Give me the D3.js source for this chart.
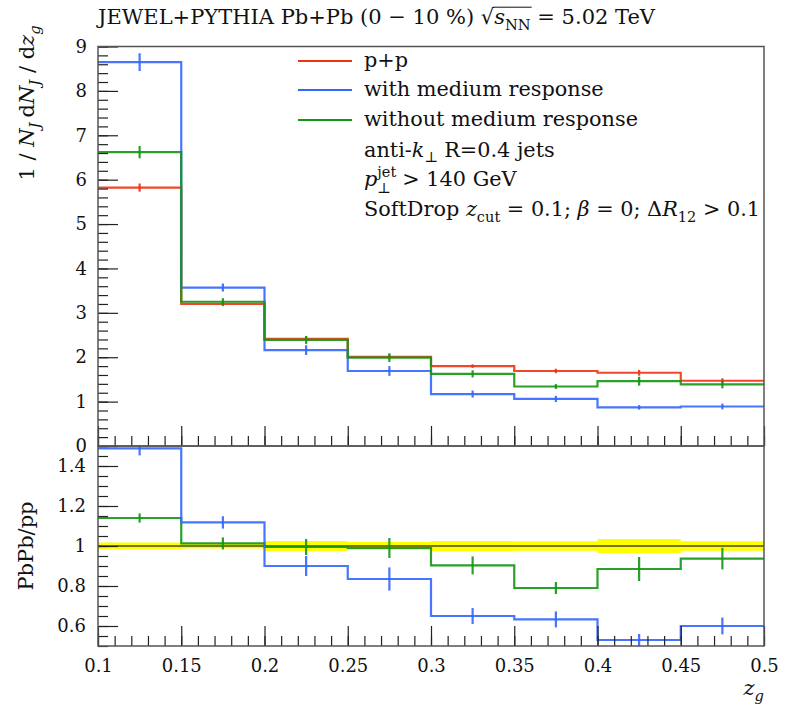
<!DOCTYPE html>
<html><head><meta charset="utf-8">
<script src="https://cdn.jsdelivr.net/npm/d3@7"></script>
<style>
body{margin:0;background:#fff;}
svg text{font-family:"DejaVu Serif",serif;fill:#111;white-space:pre;}
</style></head>
<body><svg id="c" width="789" height="712"></svg>
<script>
// ---------- data ----------
const binEdges = [0.1,0.15,0.2,0.25,0.3,0.35,0.4,0.45,0.5];
const ppVals      = [5.82,3.20,2.415,2.01,1.80,1.69,1.65,1.47];
const ppErr       = [0.094,0.05,0.05,0.05,0.04,0.05,0.065,0.055];
const withMR      = [8.65,3.57,2.16,1.69,1.17,1.06,0.87,0.89];
const withMRErr   = [0.2,0.09,0.11,0.11,0.08,0.07,0.05,0.065];
const withoutMR   = [6.62,3.25,2.39,1.99,1.625,1.34,1.46,1.39];
const withoutMRErr= [0.14,0.08,0.09,0.1,0.08,0.055,0.1,0.09];
const ratioWith      = [1.488,1.118,0.90,0.835,0.65,0.633,0.53,0.60];
const ratioWithErr   = [0.035,0.031,0.05,0.058,0.04,0.04,0.03,0.042];
const ratioWithout   = [1.14,1.013,0.995,0.99,0.903,0.79,0.885,0.937];
const ratioWithoutErr= [0.023,0.03,0.04,0.05,0.045,0.03,0.06,0.054];
const ppBand         = [0.017,0.013,0.025,0.02,0.025,0.024,0.035,0.024];
const topTicks   = [0,1,2,3,4,5,6,7,8,9];
const ratioTicks = [0.6,0.8,1,1.2,1.4];
const xTicks     = [0.1,0.15,0.2,0.25,0.3,0.35,0.4,0.45,0.5];
const xTickLabels= ["0.1","0.15","0.2","0.25","0.3","0.35","0.4","0.45","0.5"];
const seriesNames = ["p+p","with medium response","without medium response"];
const colors = ["#ee3311","#3366ff","#139613"];

// ---------- layout ----------
const svg = d3.select("#c");
const x = d3.scaleLinear([0.1,0.5],[98,764]);
const yTop = d3.scaleLinear([0,9],[446,46.5]);
const yRat = d3.scaleLinear([0.5,1.5],[646,446]);
const FONT = 21;

function len(sel){return sel.node().getComputedTextLength();}

function rich(parent, x0, y0, segs, size){
  const g = parent.append("g");
  let cx = x0; const overs=[];
  segs.forEach(s=>{
    if(s.stack){
      const a=g.append("text").attr("x",cx).attr("y",y0-size*0.45).style("font-size",size*0.7+"px").text(s.stack[0]);
      const b=g.append("text").attr("x",cx).attr("y",y0+size*0.32).style("font-size",size*0.7+"px").text(s.stack[1]);
      cx += Math.max(len(a),len(b)) + (s.gap||0);
      return;
    }
    const sz = size*(s.scale||1);
    const t=g.append("text").attr("x",cx).attr("y",y0+(s.dy||0)*size)
      .style("font-size",sz+"px").style("font-style",s.it?"italic":"normal").text(s.t);
    const w=len(t);
    if(s.ol) overs.push([cx,cx+w]);
    cx += w + (s.gap||0);
  });
  if(overs.length){
    g.append("line").attr("x1",overs[0][0]-1).attr("x2",overs[overs.length-1][1]+1)
      .attr("y1",y0-size*0.8).attr("y2",y0-size*0.8).attr("stroke","#111").attr("stroke-width",1);
  }
  return {g, width: cx-x0};
}

// ---------- title ----------
rich(svg, 98, 24, [
  {t:"JEWEL+PYTHIA Pb+Pb (0 − 10 %) "},
  {t:"√"},
  {t:"s",it:true,ol:true},
  {t:"NN",dy:0.3,scale:0.7,ol:true},
  {t:" = 5.02 TeV"}
], FONT);

// ---------- clip paths ----------
const defs = svg.append("defs");
defs.append("clipPath").attr("id","clipTop").append("rect")
  .attr("x",x(0.1)).attr("y",yTop(9)).attr("width",x(0.5)-x(0.1)).attr("height",yTop(0)-yTop(9));
defs.append("clipPath").attr("id","clipRat").append("rect")
  .attr("x",x(0.1)).attr("y",yRat(1.5)).attr("width",x(0.5)-x(0.1)).attr("height",yRat(0.5)-yRat(1.5));

function stepPts(vals){
  const pts = vals.map((v,i)=>[binEdges[i],v]);
  pts.push([binEdges[binEdges.length-1], vals[vals.length-1]]);
  return pts;
}
function drawHist(g, ys, vals, errs, color){
  const line = d3.line().x(d=>x(d[0])).y(d=>ys(d[1])).curve(d3.curveStepAfter);
  g.append("path").datum(stepPts(vals)).attr("d",line)
    .attr("fill","none").attr("stroke",color).attr("stroke-width",2.2).attr("stroke-opacity",0.9);
  g.selectAll(null).data(vals).enter().append("line")
    .attr("x1",(d,i)=>x((binEdges[i]+binEdges[i+1])/2))
    .attr("x2",(d,i)=>x((binEdges[i]+binEdges[i+1])/2))
    .attr("y1",(d,i)=>ys(d-errs[i])).attr("y2",(d,i)=>ys(d+errs[i]))
    .attr("stroke",color).attr("stroke-width",2.2).attr("stroke-opacity",0.9);
}

// ---------- top panel ----------
const gTop = svg.append("g").attr("clip-path","url(#clipTop)");
drawHist(gTop, yTop, ppVals, ppErr, colors[0]);
drawHist(gTop, yTop, withMR, withMRErr, colors[1]);
drawHist(gTop, yTop, withoutMR, withoutMRErr, colors[2]);

// ---------- ratio panel ----------
const gRat = svg.append("g").attr("clip-path","url(#clipRat)");
const bandArea = d3.area().x(d=>x(d[0])).y0(d=>yRat(1-d[1])).y1(d=>yRat(1+d[1])).curve(d3.curveStepAfter);
gRat.append("path").datum(stepPts(ppBand)).attr("d",bandArea).attr("fill","#ffff00");
gRat.append("line").attr("x1",x(0.1)).attr("x2",x(0.5)).attr("y1",yRat(1)).attr("y2",yRat(1))
  .attr("stroke","#4a4a20").attr("stroke-width",1.5);
drawHist(gRat, yRat, ratioWithout, ratioWithoutErr, colors[2]);
drawHist(gRat, yRat, ratioWith, ratioWithErr, colors[1]);

// ---------- axes ----------
const axisStyle = g=>{g.select(".domain").remove(); g.selectAll(".tick line").attr("stroke","#222").attr("stroke-width",1.2);
  g.selectAll("text").style("font-family","'DejaVu Serif',serif").style("font-size","18px").attr("fill","#111");};
const minorTop = d3.range(0,9.001,0.2).map(v=>+v.toFixed(2));
svg.append("g").attr("transform",`translate(${x(0.1)},0)`)
  .call(d3.axisLeft(yTop).tickValues(minorTop).tickSizeInner(-10).tickSizeOuter(0).tickFormat(""))
  .call(axisStyle);
svg.append("g").attr("transform",`translate(${x(0.1)},0)`)
  .call(d3.axisLeft(yTop).tickValues(topTicks).tickSizeInner(-20).tickSizeOuter(0).tickPadding(11).tickFormat(d3.format("d")))
  .call(axisStyle);
const minorRat = d3.range(0.5,1.5001,0.05).map(v=>+v.toFixed(2));
svg.append("g").attr("transform",`translate(${x(0.1)},0)`)
  .call(d3.axisLeft(yRat).tickValues(minorRat).tickSizeInner(-10).tickSizeOuter(0).tickFormat(""))
  .call(axisStyle);
svg.append("g").attr("transform",`translate(${x(0.1)},0)`)
  .call(d3.axisLeft(yRat).tickValues(ratioTicks).tickSizeInner(-20).tickSizeOuter(0).tickPadding(12).tickFormat(d=>d3.format("")(d)))
  .call(axisStyle);
const minorX = d3.range(0.1,0.5001,0.01).map(v=>+v.toFixed(2));
[yTop(0), yRat(0.5)].forEach((yy,k)=>{
  svg.append("g").attr("transform",`translate(0,${yy})`)
    .call(d3.axisBottom(x).tickValues(minorX).tickSizeInner(-10).tickSizeOuter(0).tickFormat(""))
    .call(axisStyle);
  svg.append("g").attr("transform",`translate(0,${yy})`)
    .call(d3.axisBottom(x).tickValues(xTicks).tickSizeInner(-20).tickSizeOuter(0).tickPadding(13)
      .tickFormat(k===1?((d,i)=>xTickLabels[i]):""))
    .call(axisStyle);
});

// frames
[[yTop(9),yTop(0)],[yRat(1.5),yRat(0.5)]].forEach(([a,b])=>{
  svg.append("rect").attr("x",x(0.1)).attr("y",a).attr("width",x(0.5)-x(0.1)).attr("height",b-a)
    .attr("fill","none").attr("stroke","#555").attr("stroke-width",1.5);
});

// ---------- axis labels ----------
const xl = rich(svg, 0, 695, [{t:"z",it:true},{t:"g",it:true,dy:0.3,scale:0.7}], 21);
xl.g.attr("transform",`translate(${764-xl.width},0)`);

const gy = svg.append("g");
const yl = rich(gy, 0, 0, [
  {t:"1 / "},{t:"N",it:true},{t:"J",it:true,dy:0.3,scale:0.7,gap:5},
  {t:"d"},{t:"N",it:true},{t:"J",it:true,dy:0.3,scale:0.7},{t:" / d"},{t:"z",it:true},{t:"g",it:true,dy:0.3,scale:0.7}
], 21);
gy.attr("transform",`translate(34,${103+yl.width/2}) rotate(-90)`);

const gr = svg.append("g");
const rl = rich(gr, 0, 0, [{t:"PbPb/pp"}], 21);
gr.attr("transform",`translate(33,${546+rl.width/2}) rotate(-90)`);

// ---------- legend ----------
const legY = [61,90,120];
seriesNames.forEach((n,i)=>{
  svg.append("line").attr("x1",298).attr("x2",352).attr("y1",legY[i]).attr("y2",legY[i])
    .attr("stroke",colors[i]).attr("stroke-width",1.8);
  svg.append("text").attr("x",364).attr("y",legY[i]+6).style("font-size","20.8px").text(n);
});
rich(svg, 364, 157, [{t:"anti-"},{t:"k",it:true},{t:"⊥",dy:0.25,scale:0.7,gap:6},{t:"R=0.4 jets"}], 20.8);
rich(svg, 364, 186, [{t:"p",it:true},{stack:["jet","⊥"],gap:6},{t:"> 140 GeV"}], 20.8);
rich(svg, 364, 216, [{t:"SoftDrop "},{t:"z",it:true},{t:"cut",dy:0.3,scale:0.7},{t:" = 0.1; "},{t:"β",it:true},{t:" = 0; Δ"},{t:"R",it:true},{t:"12",dy:0.3,scale:0.7},{t:" > 0.1"}], 20.8);
</script></body></html>
